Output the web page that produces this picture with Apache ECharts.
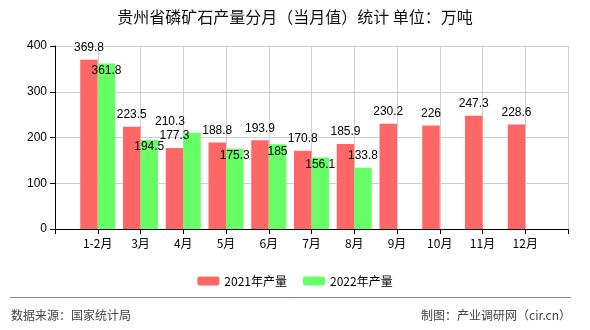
<!DOCTYPE html>
<html>
<head>
<meta charset="utf-8">
<script src="https://cdn.jsdelivr.net/npm/echarts@6/dist/echarts.min.js"></script>
<style>
html,body{margin:0;padding:0;background:#fff;}
#c{width:590px;height:330px;}
</style>
</head>
<body>
<div id="c"></div>
<script>
var months = ['1-2月','3月','4月','5月','6月','7月','8月','9月','10月','11月','12月'];
var prod2021 = [369.8, 223.5, 177.3, 188.8, 193.9, 170.8, 185.9, 230.2, 226, 247.3, 228.6];
var prod2022 = [361.8, 194.5, 210.3, 175.3, 185, 156.1, 133.8, null, null, null, null];
var seriesNames = ['2021年产量', '2022年产量'];
var yTicks = [0, 100, 200, 300, 400];

var CJK = '"Noto Sans CJK SC", "Liberation Sans", sans-serif';
var cats = [''].concat(months).concat(['']);
function pad(arr){ return ['-'].concat(arr.map(function(v){return v==null?'-':v;})).concat(['-']); }

var d2021 = pad(prod2021);
var d2022 = pad(prod2022).map(function(v, i){
  if (v === '-') return v;
  var m = i - 1;
  if (m === 2) return {value: v, label: {position: 'top', distance: 5, offset: [-22, 0]}};
  if (m === 6) return {value: v, label: {position: 'top', distance: 6}};
  return v;
});

var chart = echarts.init(document.getElementById('c'), null, {renderer: 'canvas'});
chart.setOption({
  animation: false,
  backgroundColor: '#fff',
  title: {
    text: '贵州省磷矿石产量分月（当月值）统计 单位：万吨',
    left: 'center', top: 9, padding: 0,
    textStyle: {fontSize: 16, fontWeight: 'normal', color: '#111', fontFamily: CJK}
  },
  legend: {
    data: seriesNames,
    left: 'center', top: 270,
    itemWidth: 22, itemHeight: 9, itemGap: 16,
    textStyle: {fontSize: 12, color: '#000', fontFamily: CJK}
  },
  grid: {left: 55, right: 22, top: 46, bottom: 101},
  xAxis: {
    type: 'category',
    data: cats,
    boundaryGap: false,
    axisLine: {lineStyle: {color: '#000', width: 1}},
    axisTick: {show: true, length: 5, interval: 0, lineStyle: {color: '#000'}},
    axisLabel: {interval: 0, color: '#000', fontSize: 12, margin: 8, fontFamily: CJK},
    splitLine: {show: true, interval: 0, lineStyle: {color: '#d0d0d0'}}
  },
  yAxis: {
    type: 'value',
    min: yTicks[0], max: yTicks[yTicks.length-1], interval: 100,
    axisLine: {show: true, lineStyle: {color: '#000', width: 1}},
    axisTick: {show: true, length: 5, lineStyle: {color: '#000'}},
    axisLabel: {color: '#000', fontSize: 12, margin: 8, fontFamily: '"Liberation Sans", sans-serif'},
    splitLine: {show: true, lineStyle: {color: '#d0d0d0'}}
  },
  series: [
    {
      name: seriesNames[0], type: 'bar', data: d2021,
      barWidth: 17.5, barGap: '0%',
      itemStyle: {color: '#ff6666'},
      label: {show: true, position: 'top', distance: 6, color: '#000', fontSize: 12,
        fontFamily: '"Liberation Sans", sans-serif'}
    },
    {
      name: seriesNames[1], type: 'bar', data: d2022,
      barWidth: 17.5, barGap: '0%',
      itemStyle: {color: '#66ff66'},
      label: {show: true, position: 'insideTop', distance: 1, color: '#000', fontSize: 12,
        fontFamily: '"Liberation Sans", sans-serif'}
    }
  ],
  graphic: [
    {type: 'line', shape: {x1: 10, y1: 297.5, x2: 571, y2: 297.5}, style: {stroke: '#888', lineWidth: 1}},
    {type: 'text', left: 11, top: 309, style: {text: '数据来源：国家统计局', fill: '#444', font: '12px ' + CJK}},
    {type: 'text', right: 19, top: 309, style: {text: '制图：产业调研网（cir.cn）', fill: '#444', font: '12px ' + CJK}}
  ]
});
</script>
</body>
</html>
